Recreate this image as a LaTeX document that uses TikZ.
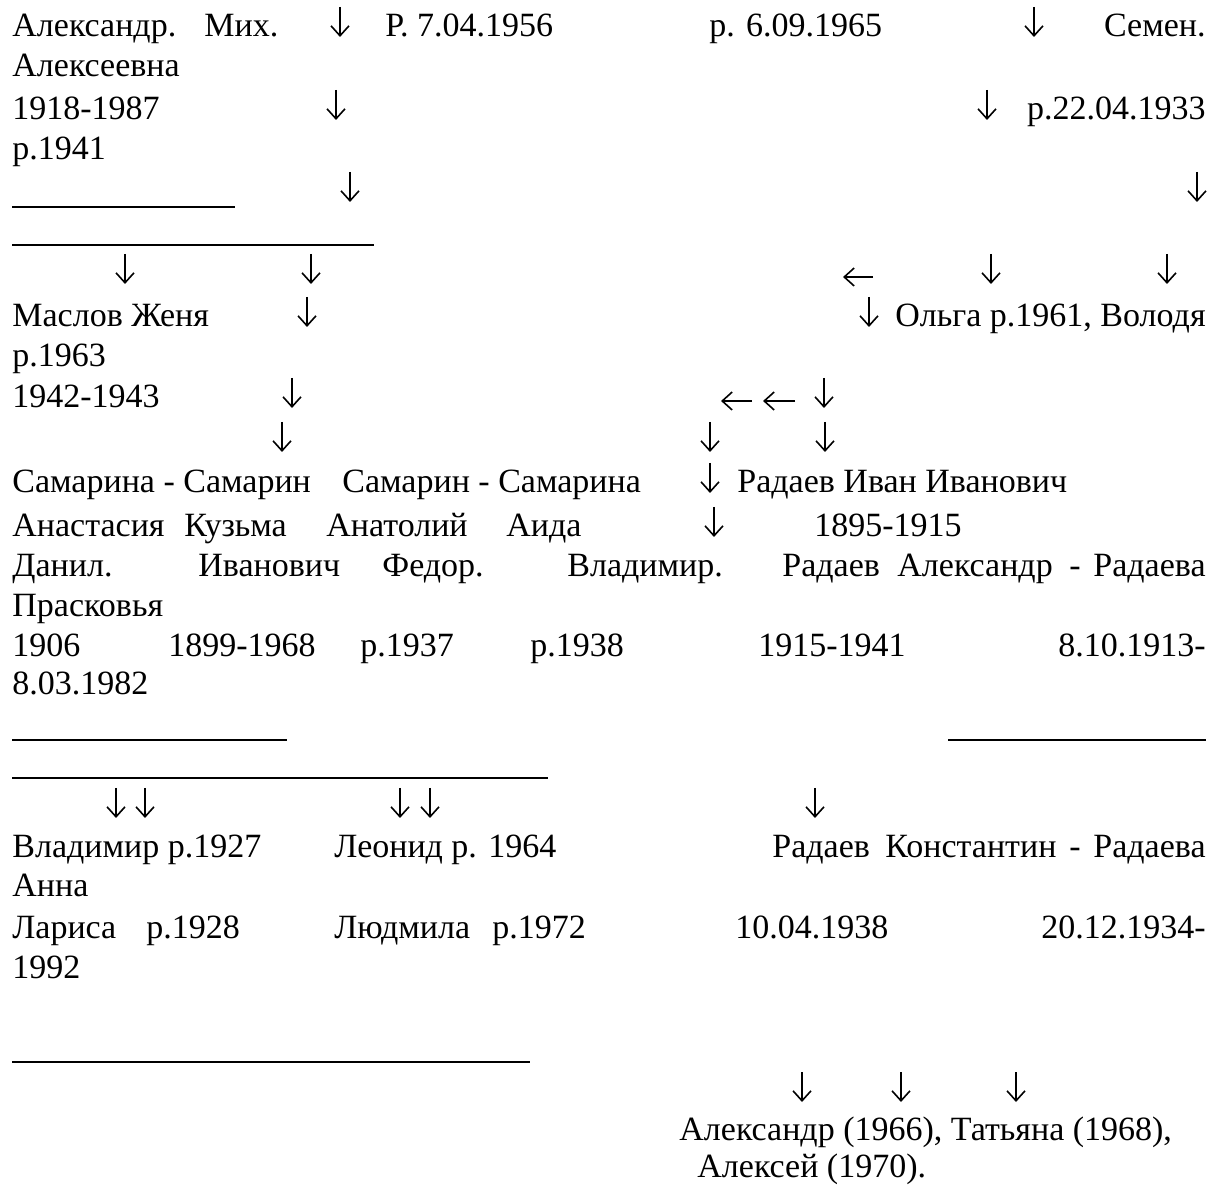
\documentclass[tikz,border=0pt]{standalone}
\usepackage{fontspec}
\setmainfont{Liberation Serif}
\usetikzlibrary{arrows.meta}

\tikzset{
  txt/.style={anchor=base west, inner sep=0pt, font=\fontsize{17}{20}\selectfont},
  txtr/.style={txt, anchor=base east},
  dnarr/.style={line width=0.8pt, -{Straight Barb[length=5pt,width=9pt]}},
  rule/.style={line width=0.8pt}
}

\begin{document}
\begin{tikzpicture}[x=0.5pt, y=-0.5pt]
  \useasboundingbox (0,0) rectangle (1221,1186);

  % top rows
  \node[txt] (alex) at (12,37) {Александр.};
  \node[txt] (mikh) at (204,37) {Мих.};
  \node[txt] (r56) at (385,37) {Р. 7.04.1956};
  \node[txt] (r65) at (709,37) {р. 6.09.1965};
  \node[txtr] (semen) at (1206,37) {Семен.};
  \node[txt] (alexeevna) at (12,77) {Алексеевна};
  \node[txt] (y1918) at (12,120) {1918-1987};
  \node[txtr] (r33) at (1206,120) {р.22.04.1933};
  \node[txt] (r41) at (12,160) {р.1941};

  \coordinate (ua) at (12,207);  \coordinate (ub) at (235,207);
  \coordinate (uc) at (12,245);  \coordinate (ud) at (374,245);
  \draw[rule] (ua) -- (ub);
  \draw[rule] (uc) -- (ud);

  % second generation
  \node[txt] (maslov) at (12,327) {Маслов Женя};
  \node[txtr] (olga) at (1206,327) {Ольга р.1961, Володя};
  \node[txt] (r63) at (12,367) {р.1963};
  \node[txt] (y1942) at (12,408) {1942-1943};

  \node[txt] (sam1) at (12,493) {Самарина - Самарин};
  \node[txt] (sam2) at (342,493) {Самарин - Самарина};
  \node[txt] (ivan) at (737,493) {Радаев Иван Иванович};
  \node[txt] (anast) at (12,537) {Анастасия};
  \node[txt] (kuzma) at (184,537) {Кузьма};
  \node[txt] (anatol) at (326,537) {Анатолий};
  \node[txt] (aida) at (506,537) {Аида};
  \node[txt] (y1895) at (814,537) {1895-1915};
  \node[txt] (danil) at (12,577) {Данил.};
  \node[txt] (ivanov) at (198,577) {Иванович};
  \node[txt] (fedor) at (382,577) {Федор.};
  \node[txt] (vlad) at (567,577) {Владимир.};
  \node[txt] (radA) at (782,577) {Радаев};
  \node[txt] (alexandr) at (897,577) {Александр};
  \node[txt] (dashA) at (1069,577) {-};
  \node[txtr] (radaevaA) at (1206,577) {Радаева};
  \node[txt] (prask) at (12,617) {Прасковья};
  \node[txt] (y1906) at (12,657) {1906};
  \node[txt] (y1899) at (168,657) {1899-1968};
  \node[txt] (r37) at (360,657) {р.1937};
  \node[txt] (r38) at (530,657) {р.1938};
  \node[txt] (y1915) at (758,657) {1915-1941};
  \node[txtr] (y1913) at (1206,657) {8.10.1913-};
  \node[txt] (y1982) at (12,695) {8.03.1982};

  \coordinate (ue) at (12,740);  \coordinate (uf) at (287,740);
  \coordinate (ug) at (948,740); \coordinate (uh) at (1206,740);
  \coordinate (ui) at (12,778);  \coordinate (uj) at (548,778);
  \draw[rule] (ue) -- (uf);
  \draw[rule] (ug) -- (uh);
  \draw[rule] (ui) -- (uj);

  % third generation
  \node[txt] (vlad27) at (12,857) {Владимир р.1927};
  \node[txt] (leonid) at (334,857) {Леонид р. 1964};
  \node[txt] (radK) at (772,857) {Радаев};
  \node[txt] (konst) at (885,857) {Константин};
  \node[txt] (dashK) at (1069,857) {-};
  \node[txtr] (radaevaK) at (1206,857) {Радаева};
  \node[txt] (anna) at (12,897) {Анна};
  \node[txt] (larisa) at (12,938) {Лариса};
  \node[txt] (r28) at (146,938) {р.1928};
  \node[txt] (ludmila) at (334,938) {Людмила};
  \node[txt] (r72) at (492,938) {р.1972};
  \node[txt] (y1938) at (735,938) {10.04.1938};
  \node[txtr] (y1934) at (1206,938) {20.12.1934-};
  \node[txt] (y1992) at (12,978) {1992};

  \coordinate (uk) at (12,1062); \coordinate (ul) at (530,1062);
  \draw[rule] (uk) -- (ul);

  \node[txt] (kids) at (679,1140) {Александр (1966), Татьяна (1968),};
  \node[txt] (alexei) at (697,1177) {Алексей (1970).};

  % arrows
  \foreach \x/\y [count=\i] in {340/37, 1034/37, 336/120, 987/120, 350/202, 1197/202,
      125/284, 311/284, 991/284, 1167/284, 307/327, 869/327, 292/408, 824/408,
      282/452, 710/452, 825/452, 710/493, 714/537,
      116/818, 145/818, 400/818, 430/818, 815/818, 802/1102, 901/1102, 1016/1102} {
    \coordinate (dtop\i) at (\x,\y-30);
    \coordinate (dbot\i) at (\x,\y);
    \draw[dnarr] (dtop\i) -- (dbot\i);
  }
  \foreach \xa/\xb/\y [count=\i] in {873/843/277, 752/721/401, 795/763/401} {
    \coordinate (lr\i) at (\xa,\y);
    \coordinate (ll\i) at (\xb,\y);
    \draw[dnarr] (lr\i) -- (ll\i);
  }
\end{tikzpicture}
\end{document}
